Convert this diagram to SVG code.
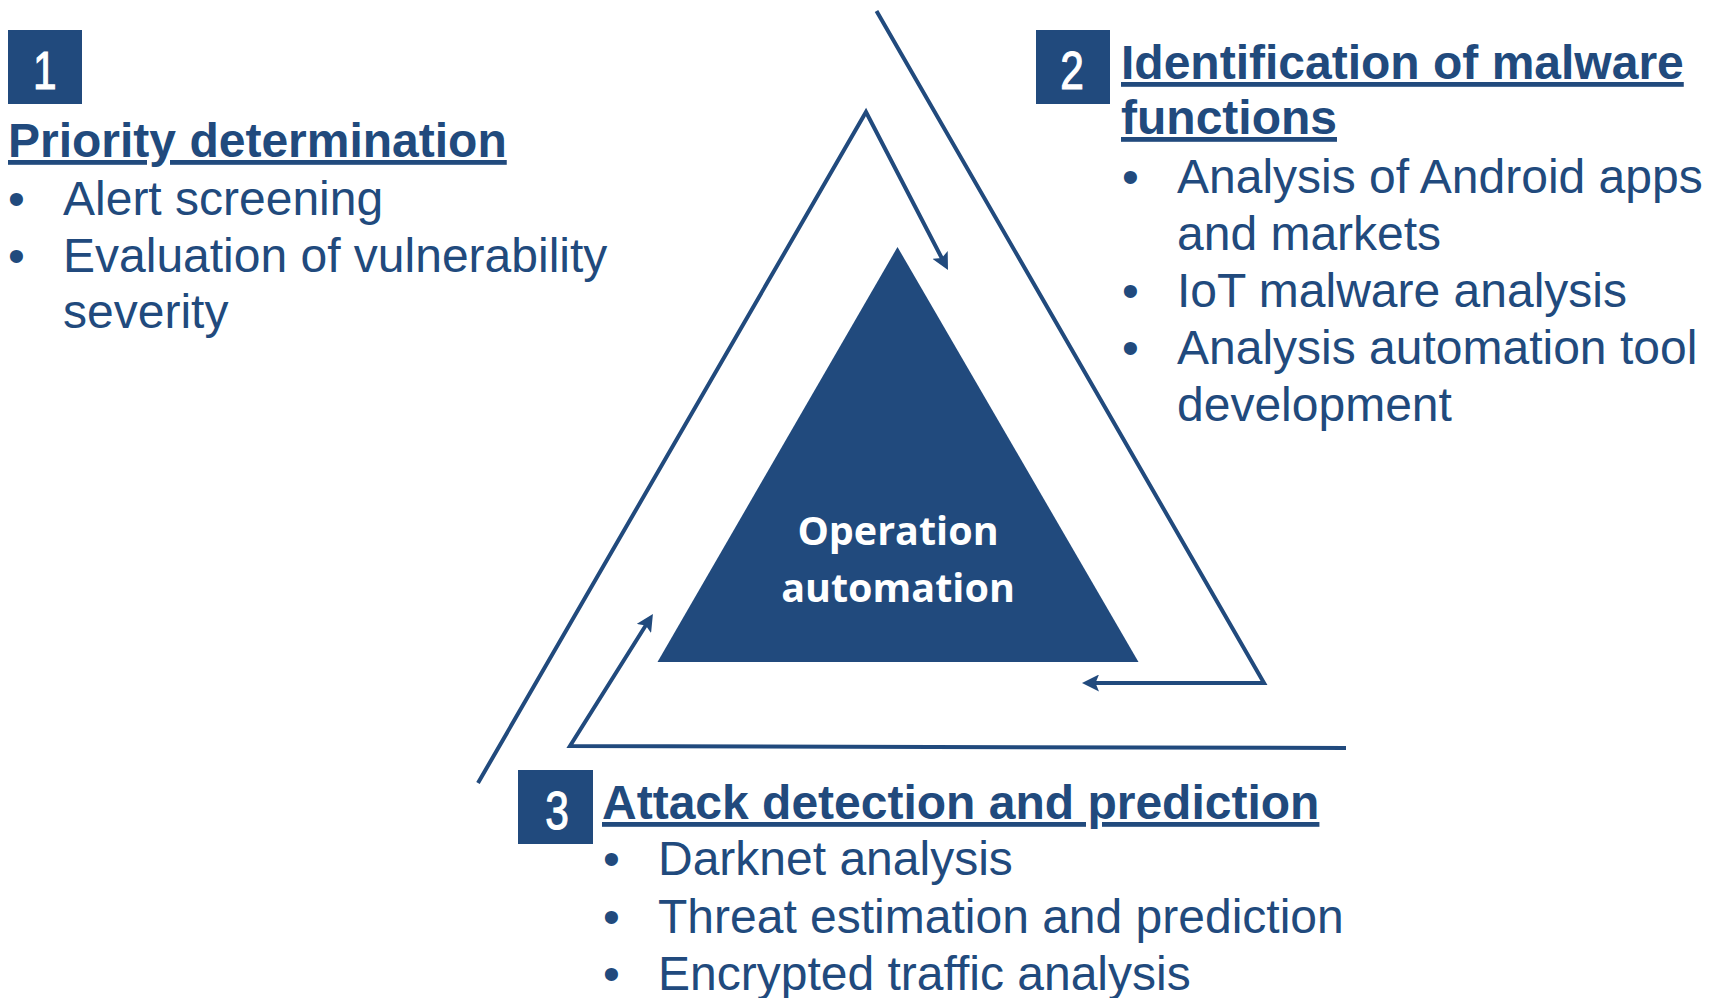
<svg xmlns="http://www.w3.org/2000/svg" width="1718" height="998" viewBox="0 0 1718 998">
  <style>
    .box { fill: #214A7D; }
    .num { font-family: "Liberation Sans", Arial, sans-serif; font-size: 53px; fill: #FFFFFF; stroke: #FFFFFF; stroke-width: 1.2; text-anchor: middle; }
    .head { font-family: "Liberation Sans", Arial, sans-serif; font-size: 48px; font-weight: bold; fill: #214A7D; text-decoration: underline; }
    .item { font-family: "Liberation Sans", Arial, sans-serif; font-size: 48px; fill: #214A7D; }
    .core-label { font-family: "Open Sans", "Noto Sans", sans-serif; font-size: 39.5px; font-weight: bold; fill: #FFFFFF; text-anchor: middle; }
    .flow { fill: none; stroke: #214A7D; stroke-width: 4; stroke-linejoin: miter; marker-end: url(#arrow); }
  </style>
  <defs>
    <marker id="arrow" markerUnits="userSpaceOnUse" markerWidth="19" markerHeight="17" refX="4" refY="8.5" orient="auto">
      <path d="M0,0 L17,8.5 L0,17 L3.5,8.5 z" fill="#214A7D"/>
    </marker>
  </defs>

  <rect width="1718" height="998" fill="#FFFFFF"/>

  <!-- cycle arrows around the core -->
  <g id="connectors">
    <path class="flow" d="M478,783 L866,112 L942,258.5"/>
    <path class="flow" d="M876.5,11 L1264,683 L1095,683"/>
    <path class="flow" d="M1346,748 L570,746 L646,625"/>
  </g>

  <!-- central triangle -->
  <g id="core">
    <polygon points="897.5,247 657.5,662 1138.5,662" fill="#214A7D"/>
    <text class="core-label" x="898" y="545">Operation</text>
    <text class="core-label" x="898" y="602">automation</text>
  </g>

  <!-- step 1 -->
  <g id="step1">
    <rect class="box" x="8" y="30" width="74" height="74"/>
    <text class="num" transform="translate(44.7,89.3) scale(0.8,1)">1</text>
    <text class="head" x="8" y="157">Priority determination</text>
    <text class="item" x="8" y="215">•</text>
    <text class="item" x="63" y="215">Alert screening</text>
    <text class="item" x="8" y="272">•</text>
    <text class="item" x="63" y="272">Evaluation of vulnerability</text>
    <text class="item" x="63" y="328">severity</text>
  </g>

  <!-- step 2 -->
  <g id="step2">
    <rect class="box" x="1036" y="30" width="74" height="74"/>
    <text class="num" transform="translate(1072,89.3) scale(0.8,1)">2</text>
    <text class="head" x="1121" y="79">Identification of malware</text>
    <text class="head" x="1121" y="134">functions</text>
    <text class="item" x="1122" y="193">•</text>
    <text class="item" x="1177" y="193">Analysis of Android apps</text>
    <text class="item" x="1177" y="250">and markets</text>
    <text class="item" x="1122" y="307">•</text>
    <text class="item" x="1177" y="307">IoT malware analysis</text>
    <text class="item" x="1122" y="364">•</text>
    <text class="item" x="1177" y="364">Analysis automation tool</text>
    <text class="item" x="1177" y="421">development</text>
  </g>

  <!-- step 3 -->
  <g id="step3">
    <rect class="box" x="518" y="770" width="75" height="74"/>
    <text class="num" transform="translate(557,829.3) scale(0.8,1)">3</text>
    <text class="head" x="602" y="819">Attack detection and prediction</text>
    <text class="item" x="603" y="875">•</text>
    <text class="item" x="658" y="875">Darknet analysis</text>
    <text class="item" x="603" y="933">•</text>
    <text class="item" x="658" y="933">Threat estimation and prediction</text>
    <text class="item" x="603" y="990">•</text>
    <text class="item" x="658" y="990">Encrypted traffic analysis</text>
  </g>
</svg>
